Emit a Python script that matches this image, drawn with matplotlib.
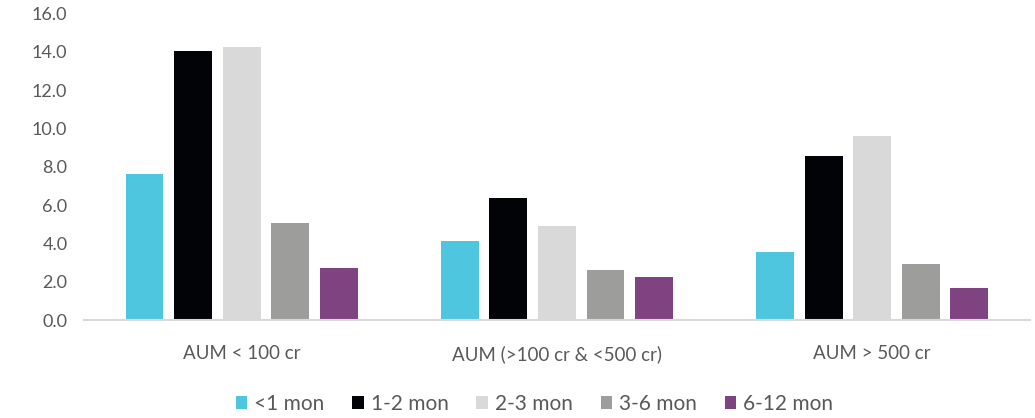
import matplotlib
matplotlib.use("Agg")
import matplotlib.pyplot as plt
import numpy as np

categories = ["AUM < 100 cr", "AUM (>100 cr & <500 cr)", "AUM > 500 cr"]
series_names = ["<1 mon", "1-2 mon", "2-3 mon", "3-6 mon", "6-12 mon"]
lt_1m = [7.6, 4.15, 3.55]
m1_2 = [14.05, 6.35, 8.55]
m2_3 = [14.25, 4.9, 9.6]
m3_6 = [5.05, 2.6, 2.9]
m6_12 = [2.7, 2.25, 1.65]
colors = ["#4FC6E0", "#020306", "#D9D9D9", "#9D9D9B", "#7F4381"]

series = [lt_1m, m1_2, m2_3, m3_6, m6_12]

plt.rcParams["font.family"] = ["Lato", "DejaVu Sans"]

fig = plt.figure(figsize=(10.35, 4.18), dpi=100)
ax = fig.add_axes([0.0812, 0.2344, 0.9138, 0.7333])

x = np.arange(len(categories))
width = 0.12
step = 0.154
for i, (vals, name, col) in enumerate(zip(series, series_names, colors)):
    ax.bar(x + (i - 2) * step, vals, width, color=col, label=name)

ax.set_xlim(-0.5, len(categories) - 0.5)
ax.set_ylim(0, 16)
ax.set_yticks(np.arange(0, 17, 2))
ax.set_yticklabels([f"{v:.1f}" for v in np.arange(0, 17, 2)])
ax.set_xticks(x)
ax.set_xticklabels(categories, fontsize=13.5)
ax.tick_params(axis="both", length=0, colors="#595959")
ax.tick_params(axis="y", labelsize=13, pad=12)
ax.tick_params(axis="x", pad=18)
for s in ("top", "right", "left"):
    ax.spines[s].set_visible(False)
ax.spines["bottom"].set_color("#D9D9D9")
ax.spines["bottom"].set_linewidth(1.5)

leg = fig.legend(loc="center", bbox_to_anchor=(534.5 / 1035, 14 / 418), ncol=5,
                 frameon=False, fontsize=15, handlelength=0.55, handleheight=0.55,
                 handletextpad=0.34, columnspacing=1.33, borderpad=0)
for t in leg.get_texts():
    t.set_color("#595959")

fig.savefig("out.png", dpi=100)
